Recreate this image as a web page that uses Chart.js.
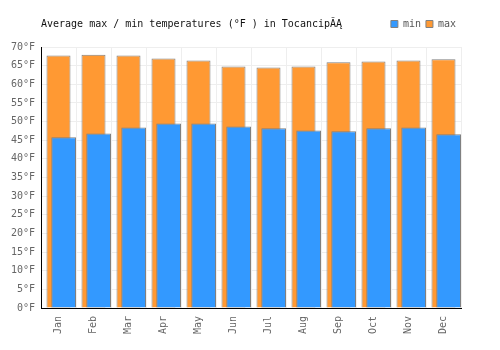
<!DOCTYPE html>
<html>
<head>
<meta charset="utf-8">
<script src="https://cdn.jsdelivr.net/npm/chart.js@4"></script>
<style>
html,body{margin:0;padding:0;background:#fff;}
#wrap{width:500px;height:350px;position:relative;}
</style>
</head>
<body>
<div id="wrap"><canvas id="c" width="500" height="350"></canvas></div>
<script>
const months = ["Jan","Feb","Mar","Apr","May","Jun","Jul","Aug","Sep","Oct","Nov","Dec"];
const minTemps = [45.8, 46.8, 48.4, 49.5, 49.5, 48.7, 48.2, 47.6, 47.4, 48.2, 48.4, 46.6];
const maxTemps = [67.7, 67.9, 67.7, 66.9, 66.4, 64.8, 64.5, 64.8, 65.9, 66.1, 66.4, 66.7];
const titleText = "Average max / min temperatures (°F ) in TocancipĂĄ";
const unit = "°F";

const FONT = "'DejaVu Sans Mono', monospace";
Chart.defaults.font.family = FONT;
Chart.defaults.font.size = 10;
Chart.defaults.animation = false;

new Chart(document.getElementById('c'), {
  type: 'bar',
  data: {
    labels: months,
    datasets: [
      {
        label: 'min',
        data: minTemps.map((v, i) => ({x: i, y: v})),
        xAxisID: 'x2',
        backgroundColor: '#3399ff',
        borderColor: '#808080',
        borderWidth: 1,
        grouped: false,
        categoryPercentage: 1,
        barPercentage: 0.706
      },
      {
        label: 'max',
        data: maxTemps,
        xAxisID: 'x',
        backgroundColor: '#ff9933',
        borderColor: '#808080',
        borderWidth: 1,
        grouped: false,
        categoryPercentage: 1,
        barPercentage: 0.686
      }
    ]
  },
  options: {
    responsive: false,
    animation: false,
    layout: { padding: { left: 0, right: 39, top: 14, bottom: 0 } },
    plugins: {
      legend: {
        display: true,
        position: 'top',
        align: 'end',
        weight: 3000,
        labels: {
          boxWidth: 7,
          boxHeight: 7,
          padding: 5,
          color: '#555',
          font: { family: FONT, size: 10 }
        }
      },
      title: {
        display: true,
        text: titleText,
        align: 'start',
        fullSize: false,
        weight: 2000,
        color: '#111',
        font: { family: FONT, size: 10, weight: 'normal' },
        padding: { top: -21, bottom: 17 }
      },
      tooltip: { enabled: false }
    },
    scales: {
      x: {
        type: 'category',
        offset: true,
        grid: { offset: true, color: '#eeeeee', drawTicks: false },
        border: { color: '#000', width: 1 },
        ticks: { color: '#666', minRotation: 90, maxRotation: 90, padding: 8, font: { family: FONT, size: 10 } },
        afterFit: (s) => { s.height = 42; }
      },
      x2: {
        type: 'linear',
        display: false,
        offset: false,
        min: -0.647,
        max: 11.353,
        grid: { display: false }
      },
      y: {
        min: 0,
        max: 70,
        grid: { color: '#eeeeee', drawTicks: false },
        border: { color: '#000', width: 1 },
        ticks: {
          stepSize: 5,
          color: '#666',
          padding: 6,
          font: { family: FONT, size: 10 },
          callback: (v) => v + unit
        },
        afterFit: (s) => { s.width = 41; }
      }
    }
  }
});
</script>
</body>
</html>
